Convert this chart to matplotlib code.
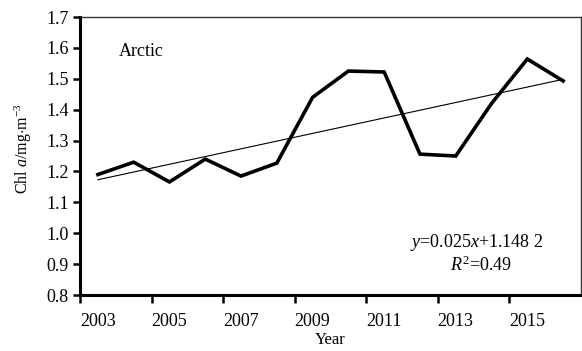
import matplotlib
matplotlib.use("Agg")
import matplotlib.pyplot as plt
import numpy as np

years = [2003, 2004, 2005, 2006, 2007, 2008, 2009, 2010, 2011, 2012, 2013, 2014, 2015, 2016]
chl = [1.19, 1.23, 1.166, 1.24, 1.185, 1.227, 1.44, 1.525, 1.522, 1.256, 1.25, 1.42, 1.564, 1.493]
slope = 0.025
intercept = 1.1482
r2 = 0.49
yticks = [0.8, 0.9, 1.0, 1.1, 1.2, 1.3, 1.4, 1.5, 1.6, 1.7]

plt.rcParams['font.family'] = ['Liberation Serif', 'DejaVu Serif']
plt.rcParams['mathtext.fontset'] = 'custom'
plt.rcParams['mathtext.rm'] = 'Liberation Serif'
plt.rcParams['mathtext.it'] = 'Liberation Serif:italic'

fig = plt.figure(figsize=(5.82, 3.51), dpi=100)
ax = fig.add_axes([80/582, 1-295/351, 501/582, 278/351])

idx = np.arange(len(years))
ax.plot(idx, chl, color='black', lw=2.6, solid_joinstyle='miter')
fit = slope * (idx + 1) + intercept
ax.plot(idx, fit, color='black', lw=0.8)

ax.set_xlim(-0.5, len(years) - 0.5)
ax.set_ylim(0.8, 1.7)
ax.set_yticks(yticks)
ax.set_yticklabels([f"{v:.1f}" for v in yticks], fontsize=13)

# ticks at category boundaries, labels at every second category centre
ax.set_xticks(np.arange(-0.5, len(years) - 0.5, 2))
ax.set_xticklabels([])
ax.set_xticks(idx[::2], minor=True)
ax.set_xticklabels([str(y) for y in years[::2]], minor=True, fontsize=13)
ax.tick_params(axis='x', which='minor', length=0, pad=13)
ax.tick_params(axis='x', which='major', length=6, width=1.8, direction='out')
ax.tick_params(axis='y', length=5, width=1.8, direction='out', pad=3)

for s in ['left', 'bottom']:
    ax.spines[s].set_linewidth(2.2)
for s in ['top', 'right']:
    ax.spines[s].set_linewidth(1.0)
    ax.spines[s].set_color('#333333')

ax.set_xlabel('Year', fontsize=12)
ax.xaxis.set_label_coords(0.5, -0.133)
ax.set_ylabel(r'Chl $\mathit{a}$/mg$\cdot$m$^{-3}$', fontsize=11.5)
ax.yaxis.set_label_coords(-0.092, 0.525)

ax.text(0.077, 0.86, 'Arctic', transform=ax.transAxes, fontsize=13)
ax.text(0.925, 0.19, r'$\mathit{y}$=0.025$\mathit{x}$+1.148 2', transform=ax.transAxes,
        fontsize=13, ha='right', va='center')
ax.text(0.8, 0.108, r'$\mathit{R}^{2}$=0.49', transform=ax.transAxes, fontsize=13,
        ha='center', va='center')

fig.savefig('out.png', dpi=100)
